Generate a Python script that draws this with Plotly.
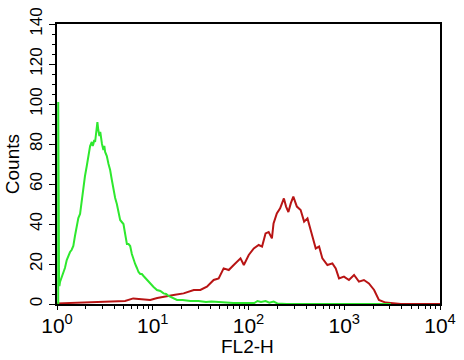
import plotly.graph_objects as go

# Green histogram (isotype / control)
green_x = [1.03, 1.03, 1.036, 1.042, 1.05, 1.06, 1.075, 1.11, 1.164, 1.21, 1.264, 1.31, 1.368, 1.42,
           1.481, 1.54, 1.608, 1.67, 1.741, 1.81, 1.886, 1.96, 2.046, 2.13, 2.216, 2.309, 2.36,
           2.40, 2.45, 2.50, 2.56, 2.642, 2.70, 2.773, 2.83, 2.888, 2.95, 3.053, 3.12, 3.182,
           3.314, 3.45, 3.589, 3.74, 3.887, 4.05, 4.218, 4.39, 4.567, 4.75, 4.946, 5.15, 5.369,
           5.59, 5.812, 6.05, 6.295, 6.55, 6.833, 7.1, 7.398, 7.7, 8.012, 8.35, 8.694, 9.05,
           9.415, 10.2, 11.07, 12.0, 12.97, 13.8, 14.64, 16.0, 17.92, 20.5, 24.7, 30, 36, 41,
           47, 56, 69.6, 85, 100, 115, 124, 135, 151, 165, 183, 200, 250, 3069]
green_y = [0, 101, 101, 55, 10, 9, 11, 13, 15, 18, 22, 24, 26, 27,
           29, 34, 40, 43, 45, 52, 60, 64, 69, 74, 79, 81, 79,
           80, 82, 81, 85, 91, 87, 84, 86, 82, 80, 77, 79, 76,
           74, 70, 67, 62, 57, 53, 50, 46, 42, 41, 40, 35, 30,
           30, 29, 25, 22, 20, 18, 16, 15, 15, 14, 13, 12, 11,
           10, 8.5, 7, 6.5, 5.3, 5, 4, 3, 2, 2, 1.5, 1.5, 1, 1.3,
           1, 0.7, 0.5, 0.5, 0.3, 0.5, 1.5, 1, 1.5, 0.7, 1.2, 0.3, 0, 0]

# Red histogram (stained sample)
red_x = [1.0, 1.436, 2.216, 2.82, 3.589, 4.25, 5.14, 6.25, 7.40, 9.415, 11.14, 12.97, 16.5, 21.0,
         26.8, 31.4, 36.8, 43.3, 48.8, 55.0, 62.2, 70.1, 82.5, 89.4, 100.6, 113.5, 127.9,
         138.6, 150.7, 162.4, 175.6, 182.6, 197.6, 213.9, 234.2, 246.9, 261.0, 276.3, 293.8,
         320, 350.4, 381, 413, 445.9, 504, 546, 591, 667, 752, 815, 882, 993, 1119, 1266,
         1423, 1605, 1809, 2051, 2300, 2700, 3200, 3900, 10000]
red_y = [0.3, 0.5, 0.8, 1, 1, 1.2, 1.5, 2.8, 2.5, 2, 3, 3.7, 4.5, 5.3,
         7, 7, 8.7, 12, 12.8, 17.8, 17, 19.5, 22.8, 19.5, 24.5, 27.8, 29.5,
         28.7, 35.3, 36, 32.8, 40.3, 45.3, 47.8, 52.8, 48.7, 46, 50.3, 53.7,
         48.7, 47, 41.2, 42.8, 37, 27.8, 28.7, 22.8, 19.5, 20.3, 17.8, 12.8, 13.7, 12, 14.5,
         11.2, 12, 10.3, 7, 2, 0.7, 0.3, 0, 0]

x_tickvals = [1, 10, 100, 1000, 10000]
x_ticktext = ["10<sup>0</sup>", "10<sup>1</sup>", "10<sup>2</sup>", "10<sup>3</sup>", "10<sup>4</sup>"]
x_minor = [m * d for d in [1, 10, 100, 1000] for m in range(2, 10)]
y_tickvals = [0, 20, 40, 60, 80, 100, 120, 140]

fig = go.Figure()
fig.add_trace(go.Scatter(x=red_x, y=red_y, mode="lines",
                         line=dict(color="#b81414", width=2), showlegend=False))
fig.add_trace(go.Scatter(x=green_x, y=green_y, mode="lines",
                         line=dict(color="#2ee82e", width=2), showlegend=False))

font_family = "Liberation Sans, Arial, sans-serif"
fig.update_layout(
    width=464, height=360,
    margin=dict(l=57, r=24, t=24, b=56),
    paper_bgcolor="white", plot_bgcolor="white",
    font=dict(family=font_family, color="black"),
    xaxis=dict(type="log", range=[0, 4], tickvals=x_tickvals, ticktext=x_ticktext,
               ticks="outside", ticklen=4, tickwidth=1, tickcolor="black",
               showline=True, linecolor="black", linewidth=1.5, mirror=True,
               showgrid=False, zeroline=False, tickfont=dict(size=21), automargin=False,
               ticklabelstandoff=-2,
               minor=dict(tickvals=x_minor, ticks="outside", ticklen=3, tickcolor="black",
                          showgrid=False)),
    yaxis=dict(range=[0, 140], tickvals=y_tickvals, tickangle=-90,
               ticks="outside", ticklen=6, tickwidth=1, tickcolor="black",
               showline=True, linecolor="black", linewidth=1.5, mirror=True,
               showgrid=False, zeroline=False, tickfont=dict(size=17), automargin=False,
               minor=dict(dtick=5, ticks="outside", ticklen=3, tickcolor="black",
                          showgrid=False)),
    annotations=[
        dict(text="FL2-H", xref="paper", yref="paper", x=0.497, y=-0.152,
             xanchor="center", yanchor="middle", showarrow=False, font=dict(size=19)),
        dict(text="Counts", xref="paper", yref="paper", x=-0.117, y=0.5,
             xanchor="center", yanchor="middle", textangle=-90, showarrow=False,
             font=dict(size=19)),
    ],
)

fig.write_html("out.html", config={"displayModeBar": False},
               post_script="document.body.style.margin='0';")
